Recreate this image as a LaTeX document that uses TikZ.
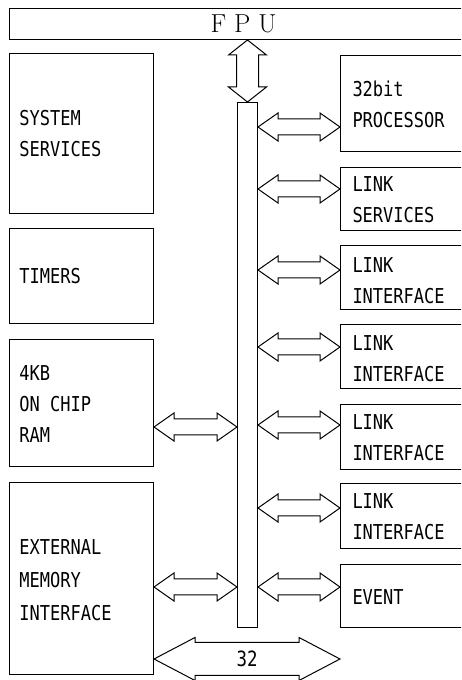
\documentclass[tikz,border=0pt]{standalone}
\usepackage{fontspec}
\usetikzlibrary{calc,positioning}
\newfontfamily\lbl[FakeStretch=0.83]{DejaVu Sans Mono}

% wide two-headed arrow, horizontal: from, to, shaft half, head half, head length
\newcommand{\hfat}[5]{%
  \draw[fat] (#1) -- ($(#1)+(#5,#4)$) -- ($(#1)+(#5,#3)$) -- ($(#2)+(-#5,#3)$)
    -- ($(#2)+(-#5,#4)$) -- (#2) -- ($(#2)+(-#5,-#4)$) -- ($(#2)+(-#5,-#3)$)
    -- ($(#1)+(#5,-#3)$) -- ($(#1)+(#5,-#4)$) -- cycle;}
% same, vertical (top to bottom)
\newcommand{\vfat}[5]{%
  \draw[fat] (#1) -- ($(#1)+(#4,-#5)$) -- ($(#1)+(#3,-#5)$) -- ($(#2)+(#3,#5)$)
    -- ($(#2)+(#4,#5)$) -- (#2) -- ($(#2)+(-#4,#5)$) -- ($(#2)+(-#3,#5)$)
    -- ($(#1)+(-#3,-#5)$) -- ($(#1)+(-#4,-#5)$) -- cycle;}
% link between two nodes at height #3
\newcommand{\link}[3]{%
  \coordinate (s) at (#1 |- 0,#3);
  \coordinate (t) at (#2 |- 0,#3);
  \hfat{s}{t}{8}{14}{20}}

\begin{document}
\begin{tikzpicture}[x=1pt, y=1pt, line width=1pt,
  box/.style={draw, rectangle, anchor=north west, inner sep=0pt},
  lbox/.style={box, minimum width=144},
  rbox/.style={box, minimum width=140},
  txt/.style={anchor=west, align=left, inner sep=0pt,
    font=\lbl\fontsize{20.5}{31}\selectfont},
  fat/.style={draw, fill=white, line join=miter}]
\clip (0,0) rectangle (461,680);

\node[box, minimum width=468, minimum height=31,
  font=\fontsize{26}{30}\selectfont] (fpu) at (9,672) {F P U};
\node[box, minimum width=20, minimum height=525] (bus) at (237,578) {};

% left column
\node[lbox, minimum height=160] (sys) at (9,627) {};
\node[lbox, minimum height=95]  (tim) at (9,452) {};
\node[lbox, minimum height=127] (ram) at (9,341) {};
\node[lbox, minimum height=192] (ext) at (9,198) {};
\node[txt] (sys-t) at (19,546) {SYSTEM\\SERVICES};
\node[txt] (tim-t) at (19,404) {TIMERS};
\node[txt] (ram-t) at (19,276) {4KB\\ON CHIP\\RAM};
\node[txt, font=\lbl\fontsize{20.5}{33}\selectfont] (ext-t) at (19,100) {EXTERNAL\\MEMORY\\INTERFACE};

% right column
\node[rbox, minimum height=96] (proc) at (340,625) {};
\node[rbox, minimum height=63] (lsrv) at (340,513) {};
\node[rbox, minimum height=64] (lif1) at (340,435) {};
\node[rbox, minimum height=64] (lif2) at (340,356) {};
\node[rbox, minimum height=65] (lif3) at (340,276) {};
\node[rbox, minimum height=65] (lif4) at (340,197) {};
\node[rbox, minimum height=63] (evt)  at (340,116) {};
\node[txt] (proc-t) at (352,576) {32bit\\PROCESSOR};
\node[txt] (lsrv-t) at (352,480) {LINK\\SERVICES};
\node[txt] (lif1-t) at (352,399) {LINK\\INTERFACE};
\node[txt] (lif2-t) at (352,321) {LINK\\INTERFACE};
\node[txt] (lif3-t) at (352,242) {LINK\\INTERFACE};
\node[txt] (lif4-t) at (352,163) {LINK\\INTERFACE};
\node[txt] (evt-t)  at (352,83)  {EVENT};

% links
\coordinate (up) at (bus.north |- fpu.south);
\vfat{up}{bus.north}{11}{19}{15}
\link{bus.east}{proc.west}{553}
\link{bus.east}{lsrv.west}{491}
\link{bus.east}{lif1.west}{410}
\link{bus.east}{lif2.west}{333}
\link{bus.east}{lif3.west}{255}
\link{bus.east}{lif4.west}{172}
\link{bus.east}{evt.west}{93}
\link{ram.east}{bus.west}{253}
\link{ext.east}{bus.west}{93}
\coordinate (b1) at (ext.east |- 0,21);
\coordinate (b2) at (evt.west |- 0,21);
\hfat{b1}{b2}{16.5}{21.5}{41}
\node[font=\lbl\fontsize{21}{25}\selectfont] (width) at ($(b1)!0.5!(b2)$) {32};
\end{tikzpicture}
\end{document}
